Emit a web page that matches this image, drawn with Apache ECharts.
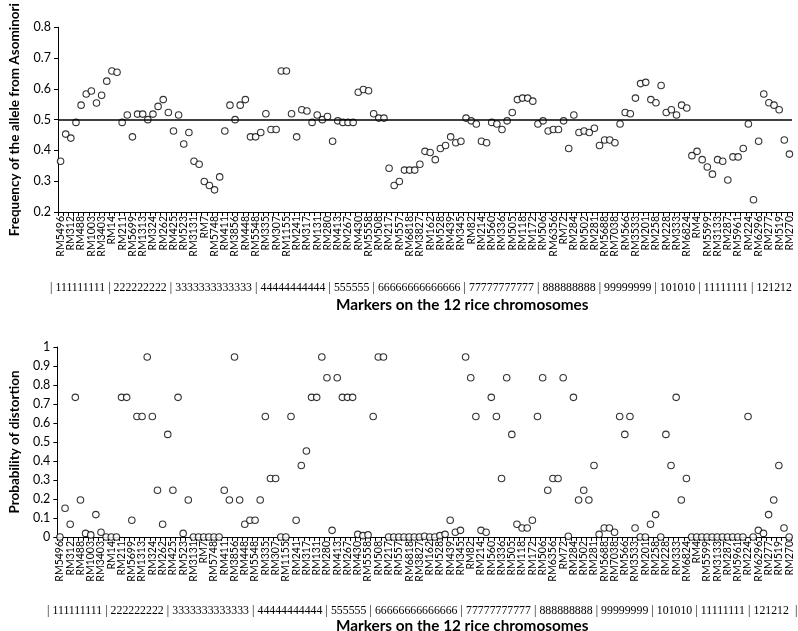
<!DOCTYPE html>
<html>
<head>
<meta charset="utf-8">
<script src="https://cdn.jsdelivr.net/npm/echarts@6/dist/echarts.min.js"></script>
<style>
html,body{margin:0;padding:0;background:#fff;}
#chart{width:798px;height:631px;}
</style>
</head>
<body>
<div id="chart"></div>
<script>
// Marker names shown on the axis (every second category is labelled)
var labeledMarkers = ['RM5496','RM312','RM488','RM1003','RM3403','RM14','RM211','RM5699','RM1313','RM324','RM262','RM425','RM523','RM3131','RM7','RM5748','RM411','RM3856','RM448','RM5548','RM335','RM307','RM1155','RM241','RM317','RM131','RM280','RM413','RM267','RM430','RM5558','RM508','RM217','RM557','RM6818','RM3827','RM162','RM528','RM439','RM345','RM82','RM214','RM560','RM336','RM505','RM118','RM172','RM506','RM6356','RM72','RM284','RM502','RM281','RM5688','RM7038','RM566','RM3533','RM201','RM258','RM228','RM333','RM6824','RM4','RM5599','RM3133','RM287','RM5961','RM224','RM6296','RM277','RM519','RM270'];

// Frequency of the allele from Asominori (143 markers)
var alleleFrequency = [0.365,0.453,0.44,0.491,0.547,0.583,0.593,0.554,0.579,0.625,0.658,0.654,0.491,0.515,0.444,0.518,0.518,0.50,0.518,0.543,
0.565,0.523,0.463,0.515,0.421,0.458,0.365,0.355,0.299,0.286,0.272,0.314,0.463,0.547,0.50,0.547,0.565,0.444,0.444,0.458,
0.519,0.468,0.468,0.658,0.658,0.519,0.444,0.532,0.528,0.491,0.515,0.50,0.51,0.430,0.496,0.491,0.491,0.491,0.589,0.598,
0.594,0.519,0.505,0.505,0.342,0.286,0.299,0.336,0.336,0.336,0.355,0.397,0.393,0.370,0.406,0.416,0.444,0.425,0.430,0.505,
0.496,0.486,0.430,0.425,0.491,0.486,0.468,0.496,0.523,0.565,0.570,0.570,0.560,0.486,0.496,0.463,0.468,0.468,0.496,0.406,
0.515,0.458,0.463,0.458,0.472,0.416,0.434,0.434,0.425,0.486,0.523,0.519,0.570,0.617,0.621,0.565,0.555,0.611,0.523,0.532,
0.515,0.547,0.538,0.383,0.397,0.370,0.346,0.323,0.370,0.365,0.304,0.379,0.379,0.406,0.486,0.240,0.430,0.583,0.555,0.547,
0.532,0.434,0.388];

// Probability of distortion (143 markers)
var distortionProb = [0,0.151,0.067,0.735,0.195,0.019,0.011,0.118,0.025,0,0,0,0.735,0.735,0.088,0.634,0.634,0.947,0.634,0.246,
0.067,0.540,0.246,0.735,0.019,0.195,0,0,0,0,0,0,0.246,0.195,0.947,0.195,0.067,0.088,0.088,0.195,
0.634,0.308,0.308,0,0,0.634,0.088,0.376,0.453,0.735,0.735,0.947,0.838,0.035,0.838,0.735,0.735,0.735,0.014,0.007,
0.011,0.634,0.947,0.947,0,0,0,0,0,0,0,0.004,0,0,0.007,0.014,0.088,0.025,0.035,0.947,
0.838,0.634,0.035,0.025,0.735,0.634,0.308,0.838,0.540,0.067,0.047,0.047,0.088,0.634,0.838,0.246,0.308,0.308,0.838,0.004,
0.735,0.195,0.246,0.195,0.376,0.014,0.047,0.047,0.025,0.634,0.540,0.634,0.047,0,0,0.067,0.118,0,0.540,0.376,
0.735,0.195,0.308,0,0,0,0,0,0,0,0,0,0,0,0.634,0,0.035,0.019,0.118,0.195,
0.376,0.047,0];

// Chromosome row text groups
var chromosomeGroups = ['111111111','222222222','3333333333333','44444444444','555555','66666666666666','77777777777','888888888','99999999','101010','11111111','121212 '];

var topTicks = {min: 0.2, max: 0.8, interval: 0.1};
var bottomTicks = {min: 0, max: 1, interval: 0.1};

// Build the category list: labelled marker at even slots, unlabelled marker between
var categories = [];
for (var i = 0; i < alleleFrequency.length; i++) {
  categories.push(i % 2 === 0 ? labeledMarkers[i / 2] : ('_m' + i));
}

var SANS = 'Lato, "Open Sans", sans-serif';
var SERIF = '"Liberation Serif", "DejaVu Serif", serif';

function xAxisDef(gridIndex) {
  return {
    type: 'category', gridIndex: gridIndex, data: categories, boundaryGap: true,
    axisLine: {lineStyle: {color: '#000', width: 1}},
    axisTick: {show: true, interval: 0, length: 4, lineStyle: {color: '#000'}},
    axisLabel: {interval: 0, rotate: 90, fontFamily: SANS, fontSize: 10.5, color: '#000', margin: 4,
      showMinLabel: true, showMaxLabel: true, hideOverlap: false,
      formatter: function (v, idx) { return idx % 2 === 0 ? v : ''; }},
    splitLine: {show: false}
  };
}
function yAxisDef(gridIndex, ticks, name, gap) {
  return {
    type: 'value', gridIndex: gridIndex, min: ticks.min, max: ticks.max, interval: ticks.interval,
    name: name, nameLocation: 'middle', nameGap: gap,
    nameTextStyle: {fontFamily: SANS, fontWeight: 'bold', fontSize: 13.5, color: '#000'},
    axisLine: {show: true, lineStyle: {color: '#000', width: 1}},
    axisTick: {show: true, length: 4, lineStyle: {color: '#000'}},
    axisLabel: {fontFamily: SANS, fontSize: 12.5, color: '#000', margin: 7,
      formatter: function (v) { return String(Math.round(v * 10) / 10); }},
    splitLine: {show: false}
  };
}

var chromText = chromosomeGroups.map(function (g) { return '{s||}' + g; }).join('') + '{s||}';
var chromRich = {s: {fontFamily: SERIF, fontSize: 11.8, color: '#777', padding: [0, 3.1]}};

var markerStyle = {color: '#fff', borderColor: '#000', borderWidth: 1.1};

var option = {
  backgroundColor: '#fff',
  animation: false,
  grid: [
    {left: 53, top: 20, width: 739, height: 192},
    {left: 49.7, top: 347, width: 742, height: 190}
  ],
  xAxis: [xAxisDef(0), xAxisDef(1)],
  yAxis: [
    yAxisDef(0, topTicks, 'Frequency of the allele from Asominori', 36),
    yAxisDef(1, bottomTicks, 'Probability of distortion', 35)
  ],
  series: [
    {
      type: 'scatter', xAxisIndex: 0, yAxisIndex: 0, data: alleleFrequency,
      symbol: 'circle', symbolSize: 6.5, itemStyle: markerStyle, silent: true,
      markLine: {silent: true, symbol: 'none', label: {show: false},
        lineStyle: {color: '#000', width: 1.5, type: 'solid'}, data: [{yAxis: 0.5}]}
    },
    {
      type: 'scatter', xAxisIndex: 1, yAxisIndex: 1, data: distortionProb,
      symbol: 'circle', symbolSize: 6.5, itemStyle: markerStyle, silent: true
    }
  ],
  graphic: [
    {type: 'text', left: 50, top: 282, style: {text: chromText, rich: chromRich, fontFamily: SERIF, fontSize: 11.8, fill: '#000'}},
    {type: 'text', left: 47, top: 605, style: {text: chromText, rich: chromRich, fontFamily: SERIF, fontSize: 11.8, fill: '#000'}},
    {type: 'text', left: 336, top: 298, style: {text: 'Markers on the 12 rice chromosomes', fontFamily: SANS, fontWeight: 'bold', fontSize: 15.3, fill: '#000'}},
    {type: 'text', left: 336, top: 619, style: {text: 'Markers on the 12 rice chromosomes', fontFamily: SANS, fontWeight: 'bold', fontSize: 15.3, fill: '#000'}}
  ]
};

var chart = echarts.init(document.getElementById('chart'), null, {renderer: 'canvas'});
chart.setOption(option);
</script>
</body>
</html>
